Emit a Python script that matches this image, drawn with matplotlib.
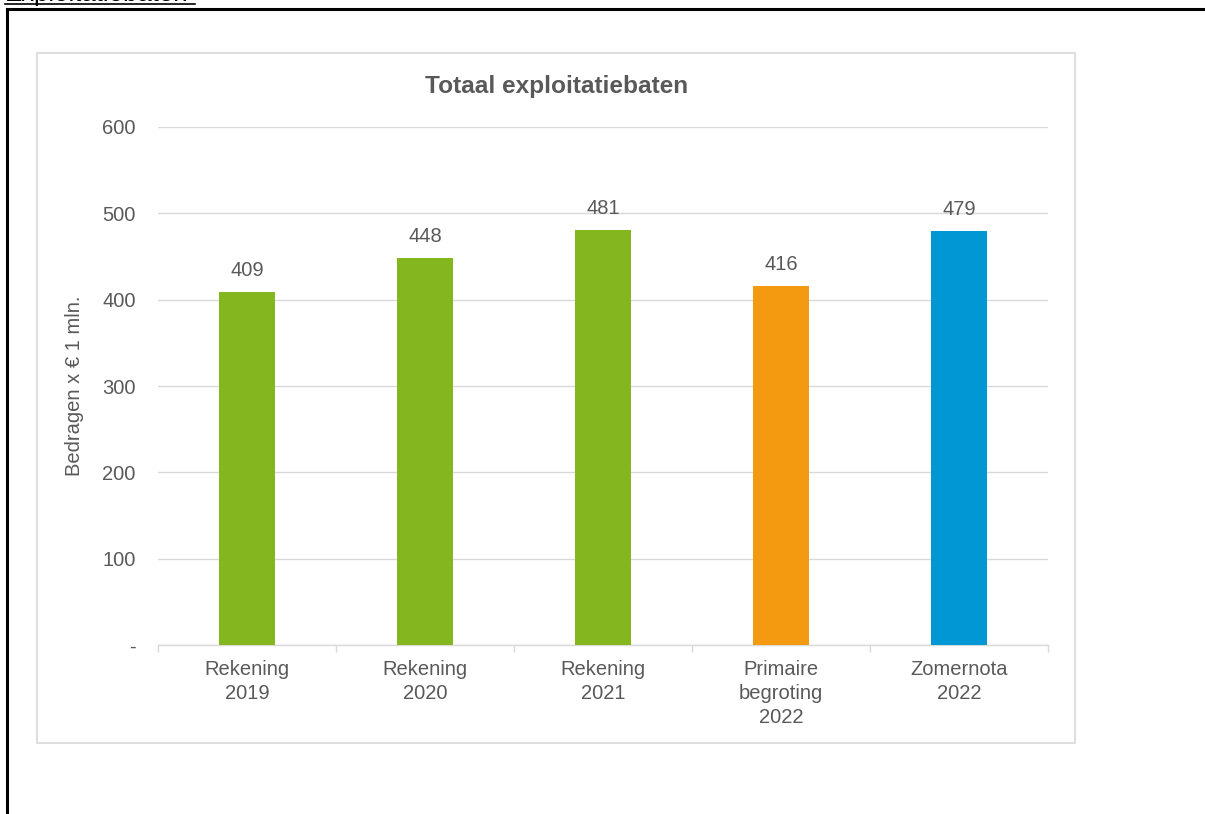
import numpy as np
import matplotlib
matplotlib.use('Agg')
import matplotlib.pyplot as plt
from matplotlib.patches import Rectangle
from matplotlib.lines import Line2D

plt.rcParams['font.family'] = ['Liberation Sans', 'DejaVu Sans']

#### data
categories = ['Rekening\n2019', 'Rekening\n2020', 'Rekening\n2021',
              'Primaire\nbegroting\n2022', 'Zomernota\n2022']
values = [409, 448, 481, 416, 479]
bar_colors = ['#84b71d', '#84b71d', '#84b71d', '#f39a11', '#0097d4']
y_ticks = [0, 100, 200, 300, 400, 500, 600]
y_tick_labels = ['-', '100', '200', '300', '400', '500', '600']

text_gray = '#595959'
grid_gray = '#d9d9d9'
fs = 14.5

W, H = 1205, 814
fig = plt.figure(figsize=(W / 100, H / 100), dpi=100)

# outer black frame (page table border) and chart box
fig.add_artist(Line2D([6.5 / W, 6.5 / W], [0, 1 - 8.5 / H], color='black', lw=2.2, transform=fig.transFigure))
fig.add_artist(Line2D([6.5 / W, 1], [1 - 8.5 / H, 1 - 8.5 / H], color='black', lw=2.2, transform=fig.transFigure))
fig.add_artist(Rectangle((37 / W, 1 - 743 / H), (1075 - 37) / W, (743 - 53) / H,
                         transform=fig.transFigure, fill=False, edgecolor=grid_gray, lw=1.2))
# heading above the frame, cut off by the top edge as in the source
fig.text(5 / W, 1 - 1.5 / H, 'Exploitatiebaten', fontsize=18.5, color='black',
         va='baseline', ha='left')
fig.add_artist(Line2D([5 / W, 195 / W], [1 - 3.5 / H, 1 - 3.5 / H], color='black', lw=1.2, transform=fig.transFigure))

# plot area
ax = fig.add_axes([158 / W, 1 - 645 / H, (1048 - 158) / W, (645 - 127) / H])
x = np.arange(len(values))
ax.bar(x, values, width=0.315, color=bar_colors, zorder=3)
ax.set_xlim(-0.5, len(values) - 0.5)
ax.set_ylim(0, 600)

for i, v in enumerate(values):
    ax.text(i, v + 14, str(v), ha='center', va='bottom', fontsize=fs, color=text_gray)

ax.set_yticks(y_ticks)
ax.set_yticklabels(y_tick_labels, fontsize=fs, color=text_gray)
ax.tick_params(axis='y', length=0, pad=16)
ax.yaxis.grid(True, color=grid_gray, lw=1, zorder=0)

ax.set_xticks(x)
ax.set_xticklabels(categories, fontsize=fs, color=text_gray, linespacing=1.32)
ax.tick_params(axis='x', length=0, pad=11)
# tick marks at category boundaries
ax.set_xticks(np.arange(-0.5, len(values), 1), minor=True)
ax.tick_params(axis='x', which='minor', length=5, color=grid_gray, width=1)

for s in ['top', 'right', 'left']:
    ax.spines[s].set_visible(False)
ax.spines['bottom'].set_color(grid_gray)
ax.spines['bottom'].set_linewidth(1)

ax.set_ylabel('Bedragen x € 1 mln.', fontsize=fs, color=text_gray, labelpad=13)

fig.text(557 / W, 1 - 86 / H, 'Totaal exploitatiebaten', ha='center', va='center',
         fontsize=17.6, fontweight='bold', color=text_gray)

fig.savefig('out.png', dpi=100)
